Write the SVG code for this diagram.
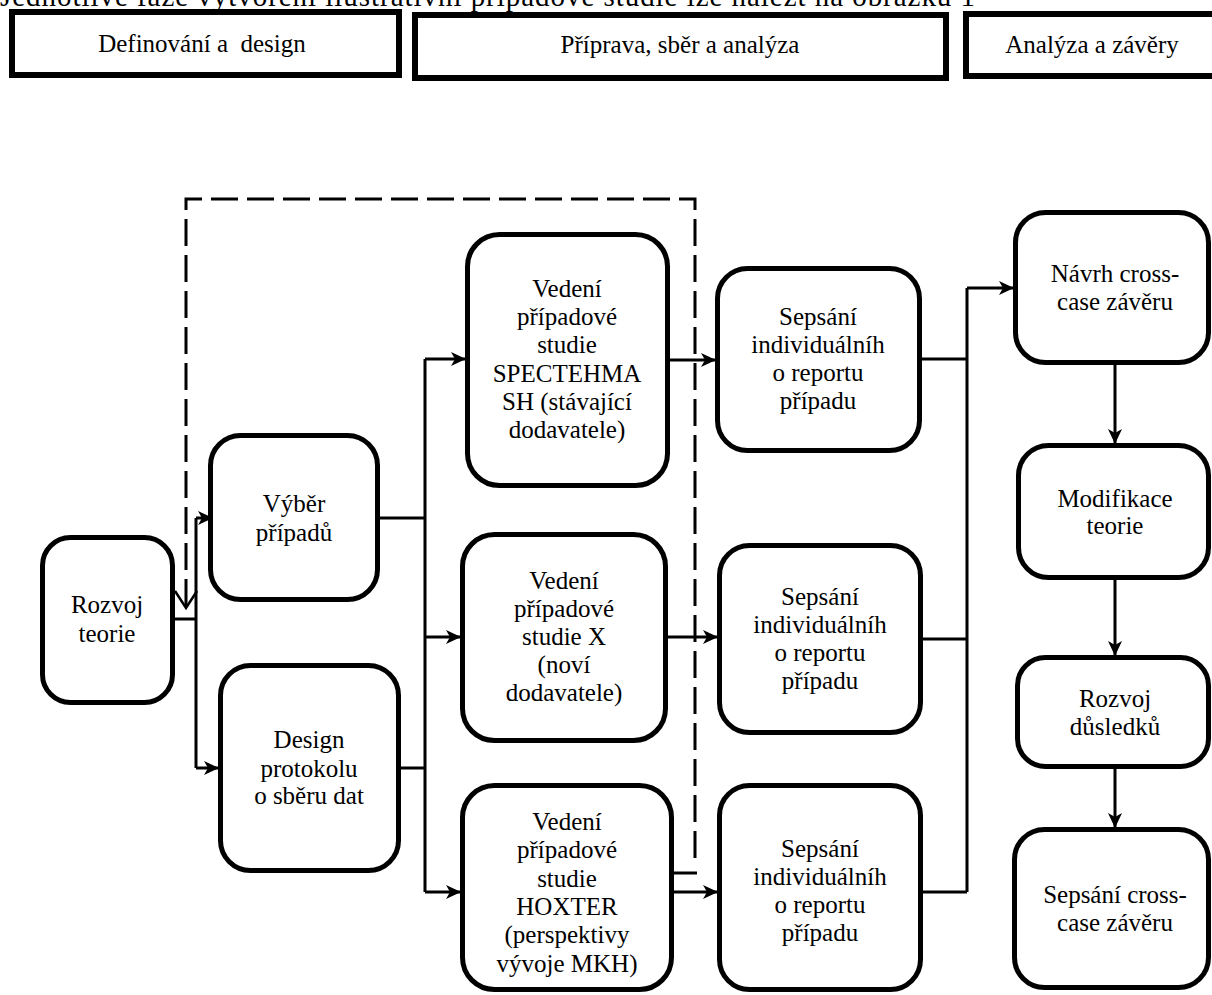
<svg xmlns="http://www.w3.org/2000/svg" width="1212" height="995" viewBox="0 0 1212 995">
<style>
.box{fill:#fff;stroke:#000;stroke-width:5}
.hdr{fill:#fff;stroke:#000;stroke-width:6}
.t{font-family:"Liberation Serif","Times New Roman",serif;font-size:25px;fill:#000;text-anchor:middle}
.c{fill:none;stroke:#000;stroke-width:3}
.a{marker-end:url(#arr)}
.dash{fill:none;stroke:#000;stroke-width:3;stroke-dasharray:27 9}
</style>
<defs>
<marker id="arr" markerUnits="userSpaceOnUse" markerWidth="16" markerHeight="16" refX="14" refY="8" orient="auto"><path d="M0,1 L15,8 L0,15 L4,8 z" fill="#000"/></marker>
</defs>
<rect width="1212" height="995" fill="#fff"/>
<text x="0" y="6" font-family="Liberation Serif, Times New Roman, serif" font-size="29" textLength="975" lengthAdjust="spacing">Jednotlivé fáze vytvoření ilustrativní případové studie lze nalézt na obrázku 1</text>

<g id="phase1"><rect class="hdr" x="12" y="12" width="387" height="63"/><text class="t" x="202" y="52" xml:space="preserve">Definování a  design</text></g>
<g id="phase2"><rect class="hdr" x="415" y="15" width="531" height="63"/><text class="t" x="680" y="53">Příprava, sběr a analýza</text></g>
<g id="phase3"><rect class="hdr" x="966" y="14" width="260" height="62"/><text class="t" x="1092" y="53">Analýza a závěry</text></g>

<g id="connectors">
<path class="dash" d="M186,606 V199 H695 V862"/>
<polyline class="c" points="175,591 186,608 197,591" style="stroke-width:2.5"/>
<path class="c" d="M673,873 H697"/>
<path class="c" d="M173,619 H196"/>
<path class="c" d="M196,518 V768"/>
<path class="c a" d="M196,518 H212"/>
<path class="c a" d="M196,768 H218"/>
<path class="c" d="M380,518 H425"/>
<path class="c" d="M401,768 H425"/>
<path class="c" d="M425,359 V892"/>
<path class="c a" d="M425,359 H465"/>
<path class="c a" d="M425,637 H460"/>
<path class="c a" d="M425,892 H460"/>
<path class="c a" d="M670,360 H715"/>
<path class="c a" d="M668,637 H717"/>
<path class="c a" d="M674,892 H717"/>
<path class="c" d="M922,359 H967"/>
<path class="c" d="M923,639 H967"/>
<path class="c" d="M923,892 H967"/>
<path class="c" d="M967,288 V892"/>
<path class="c a" d="M967,288 H1013"/>
<path class="c a" d="M1115,365 V443"/>
<path class="c a" d="M1115,580 V655"/>
<path class="c a" d="M1115,769 V827"/>
</g>

<g id="rozvoj-teorie"><rect class="box" x="42.5" y="537.5" width="130" height="165" rx="28"/><text class="t" x="107" y="613">Rozvoj</text><text class="t" x="107" y="642">teorie</text></g>
<g id="vyber-pripadu"><rect class="box" x="210.5" y="435.5" width="167" height="164" rx="30"/><text class="t" x="294" y="512">Výběr</text><text class="t" x="294" y="541">případů</text></g>
<g id="design-protokolu"><rect class="box" x="220.5" y="665.5" width="178" height="205" rx="30"/><text class="t" x="309" y="748">Design</text><text class="t" x="309" y="777">protokolu</text><text class="t" x="309" y="804">o sběru dat</text></g>
<g id="studie-spectehma"><rect class="box" x="467.5" y="234.5" width="200" height="251" rx="32"/><text class="t" x="567" y="297">Vedení</text><text class="t" x="567" y="325">případové</text><text class="t" x="567" y="353">studie</text><text class="t" x="567" y="382">SPECTEHMA</text><text class="t" x="567" y="410">SH (stávající</text><text class="t" x="567" y="438">dodavatele)</text></g>
<g id="studie-x"><rect class="box" x="462.5" y="534.5" width="203" height="206" rx="32"/><text class="t" x="564" y="589">Vedení</text><text class="t" x="564" y="617">případové</text><text class="t" x="564" y="645">studie X</text><text class="t" x="564" y="673">(noví</text><text class="t" x="564" y="701">dodavatele)</text></g>
<g id="studie-hoxter"><rect class="box" x="462.5" y="785.5" width="209" height="204" rx="32"/><text class="t" x="567" y="830">Vedení</text><text class="t" x="567" y="858">případové</text><text class="t" x="567" y="887">studie</text><text class="t" x="567" y="915">HOXTER</text><text class="t" x="567" y="943">(perspektivy</text><text class="t" x="567" y="972">vývoje MKH)</text></g>
<g id="sepsani-1"><rect class="box" x="717.5" y="268.5" width="202" height="182" rx="30"/><text class="t" x="818" y="325">Sepsání</text><text class="t" x="818" y="353">individuálníh</text><text class="t" x="818" y="381">o reportu</text><text class="t" x="818" y="409">případu</text></g>
<g id="sepsani-2"><rect class="box" x="719.5" y="545.5" width="201" height="187" rx="30"/><text class="t" x="820" y="605">Sepsání</text><text class="t" x="820" y="633">individuálníh</text><text class="t" x="820" y="661">o reportu</text><text class="t" x="820" y="689">případu</text></g>
<g id="sepsani-3"><rect class="box" x="719.5" y="785.5" width="201" height="204" rx="30"/><text class="t" x="820" y="857">Sepsání</text><text class="t" x="820" y="885">individuálníh</text><text class="t" x="820" y="913">o reportu</text><text class="t" x="820" y="941">případu</text></g>
<g id="navrh-cross-case"><rect class="box" x="1015.5" y="212.5" width="193" height="150" rx="30"/><text class="t" x="1115" y="282">Návrh cross-</text><text class="t" x="1115" y="310">case závěru</text></g>
<g id="modifikace-teorie"><rect class="box" x="1018.5" y="445.5" width="190" height="132" rx="30"/><text class="t" x="1115" y="507">Modifikace</text><text class="t" x="1115" y="534">teorie</text></g>
<g id="rozvoj-dusledku"><rect class="box" x="1017.5" y="657.5" width="191" height="109" rx="28"/><text class="t" x="1115" y="707">Rozvoj</text><text class="t" x="1115" y="735">důsledků</text></g>
<g id="sepsani-cross-case"><rect class="box" x="1014.5" y="829.5" width="194" height="158" rx="30"/><text class="t" x="1115" y="903">Sepsání cross-</text><text class="t" x="1115" y="931">case závěru</text></g>
</svg>
